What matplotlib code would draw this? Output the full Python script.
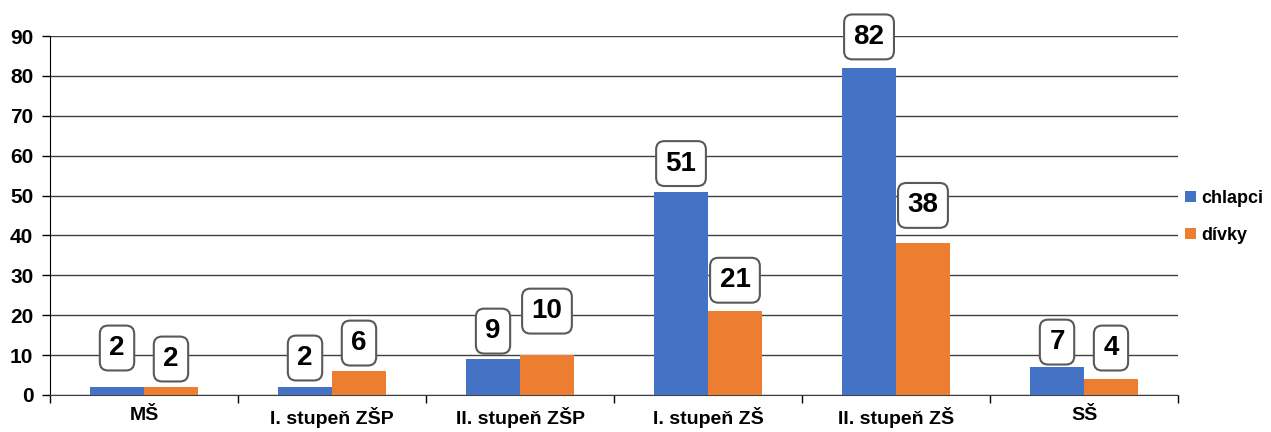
import numpy as np
import matplotlib.pyplot as plt

plt.rcParams['font.family'] = ['Liberation Sans', 'DejaVu Sans']

# data
kategorie = ['MŠ', 'I. stupeň ZŠP', 'II. stupeň ZŠP', 'I. stupeň ZŠ', 'II. stupeň ZŠ', 'SŠ']
chlapci = [2, 2, 9, 51, 82, 7]
divky = [2, 6, 10, 21, 38, 4]

# vyska popisku nad sloupcem (px), rucne posunute jako v puvodnim grafu
lift_ch = [19, 9, 8, 8, 11, 5]
lift_dv = [8, 8, 24, 11, 18, 11]

modra = '#4472C4'
oranzova = '#ED7D31'

fig = plt.figure(figsize=(12.71, 4.32), dpi=100)
ax = fig.add_axes([50 / 1271, 37 / 432, 1128 / 1271, 359 / 432])

x = np.arange(len(kategorie))
w = 0.287
b1 = ax.bar(x - w / 2, chlapci, w, color=modra, label='chlapci', zorder=3)
b2 = ax.bar(x + w / 2, divky, w, color=oranzova, label='dívky', zorder=3)

box = dict(boxstyle='round,pad=0.34,rounding_size=0.3', fc='white', ec='#595959', lw=1.5)
for bars, vals, lifts in [(b1, chlapci, lift_ch), (b2, divky, lift_dv)]:
    for r, v, l in zip(bars, vals, lifts):
        ax.annotate(str(v), (r.get_x() + r.get_width() / 2, v),
                    xytext=(0, (l + 20) * 0.72), textcoords='offset points',
                    ha='center', va='center', fontsize=20, fontweight='bold',
                    bbox=box, zorder=5, annotation_clip=False)

ax.set_ylim(0, 90)
ax.set_xlim(-0.5, len(kategorie) - 0.5)
ax.set_yticks(range(0, 91, 10))
ax.yaxis.grid(True, color='#404040', lw=1, zorder=0)
ax.set_axisbelow(True)

ax.set_xticks(x)
ax.set_xticklabels(kategorie, fontsize=14, fontweight='bold')
ax.tick_params(axis='x', length=0, pad=9)
ax.set_xticks(np.arange(-0.5, len(kategorie)), minor=True)
ax.tick_params(axis='x', which='minor', length=6, color='black', width=1)
ax.tick_params(axis='y', length=6, labelsize=15, width=1, pad=6)
for t in ax.get_yticklabels():
    t.set_fontweight('bold')

ax.spines['top'].set_visible(False)
ax.spines['right'].set_visible(False)
ax.spines['left'].set_color('black')
ax.spines['bottom'].set_color('#404040')

fig.legend(loc='center left', bbox_to_anchor=(1178 / 1271, 1 - 217 / 432),
           frameon=False, handlelength=0.6, handleheight=0.6, handletextpad=0.3,
           labelspacing=1.1, prop={'weight': 'bold', 'size': 13}, borderaxespad=0)

fig.savefig('out.png', dpi=100)
